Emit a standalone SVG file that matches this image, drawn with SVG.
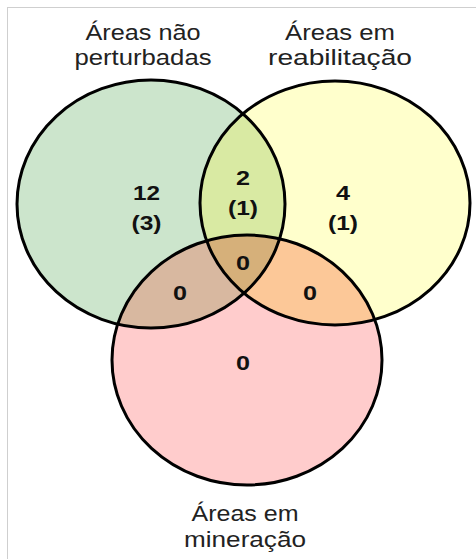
<svg xmlns="http://www.w3.org/2000/svg" width="476" height="559" viewBox="0 0 476 559">
<style>
.lbl{font-family:"Liberation Sans",Arial,sans-serif;font-size:22px;fill:#222;text-anchor:middle}
.num{font-family:"Liberation Sans",Arial,sans-serif;font-size:21px;font-weight:bold;fill:#111;text-anchor:middle}
.ring{fill:none;stroke:#000;stroke-width:3}
</style>
<defs>
<clipPath id="cG"><ellipse cx="151" cy="204" rx="134" ry="124"/></clipPath>
<clipPath id="cY"><ellipse cx="335" cy="203" rx="135" ry="122"/></clipPath>
</defs>
<rect x="7.5" y="7.5" width="480" height="560" fill="#fff" stroke="#cfcfcf" stroke-width="1"/>
<g id="fills">
<ellipse cx="151" cy="204" rx="134" ry="124" fill="#cce5cc"/>
<ellipse cx="335" cy="203" rx="135" ry="122" fill="#ffffcc"/>
<ellipse cx="247" cy="360" rx="135" ry="125" fill="#ffcccc"/>
<ellipse cx="335" cy="203" rx="135" ry="122" fill="#d9eaa3" clip-path="url(#cG)"/>
<ellipse cx="247" cy="360" rx="135" ry="125" fill="#d8b8a0" clip-path="url(#cG)"/>
<ellipse cx="247" cy="360" rx="135" ry="125" fill="#fcc898" clip-path="url(#cY)"/>
<g clip-path="url(#cG)"><ellipse cx="247" cy="360" rx="135" ry="125" fill="#d6b07a" clip-path="url(#cY)"/></g>
</g>
<g id="nao-perturbadas">
<ellipse class="ring" cx="151" cy="204" rx="134" ry="124"/>
<text class="lbl" x="143" y="40" textLength="115" lengthAdjust="spacingAndGlyphs">Áreas não</text>
<text class="lbl" x="143" y="65" textLength="137" lengthAdjust="spacingAndGlyphs">perturbadas</text>
</g>
<g id="reabilitacao">
<ellipse class="ring" cx="335" cy="203" rx="135" ry="122"/>
<text class="lbl" x="340" y="40" textLength="110" lengthAdjust="spacingAndGlyphs">Áreas em</text>
<text class="lbl" x="340" y="65" textLength="144" lengthAdjust="spacingAndGlyphs">reabilitação</text>
</g>
<g id="mineracao">
<ellipse class="ring" cx="247" cy="360" rx="135" ry="125"/>
<text class="lbl" x="245" y="521" textLength="107" lengthAdjust="spacingAndGlyphs">Áreas em</text>
<text class="lbl" x="245" y="547" textLength="122" lengthAdjust="spacingAndGlyphs">mineração</text>
</g>
<g id="counts">
<text class="num" x="146.5" y="200" textLength="27" lengthAdjust="spacingAndGlyphs">12</text>
<text class="num" x="146.5" y="230" textLength="30" lengthAdjust="spacingAndGlyphs">(3)</text>
<text class="num" x="243" y="185" textLength="14" lengthAdjust="spacingAndGlyphs">2</text>
<text class="num" x="243" y="215" textLength="30" lengthAdjust="spacingAndGlyphs">(1)</text>
<text class="num" x="343" y="200" textLength="14" lengthAdjust="spacingAndGlyphs">4</text>
<text class="num" x="343" y="230" textLength="30" lengthAdjust="spacingAndGlyphs">(1)</text>
<text class="num" x="243" y="270" textLength="14" lengthAdjust="spacingAndGlyphs">0</text>
<text class="num" x="180" y="300" textLength="14" lengthAdjust="spacingAndGlyphs">0</text>
<text class="num" x="310" y="300" textLength="14" lengthAdjust="spacingAndGlyphs">0</text>
<text class="num" x="243" y="370" textLength="14" lengthAdjust="spacingAndGlyphs">0</text>
</g>
</svg>
